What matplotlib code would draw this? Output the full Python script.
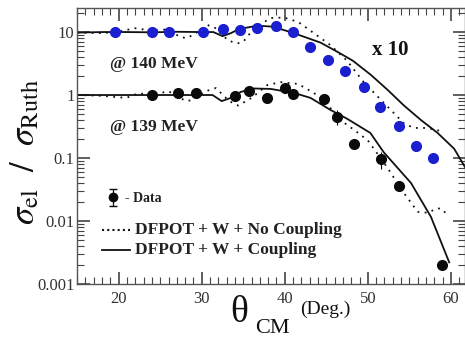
import matplotlib
matplotlib.use("Agg")
import matplotlib.pyplot as plt
from matplotlib.ticker import MultipleLocator, LogLocator, FixedLocator, NullFormatter
import numpy as np

plt.rcParams['font.family'] = ['Liberation Serif', 'DejaVu Serif']
plt.rcParams['mathtext.fontset'] = 'stix'

# 140 MeV data (x10)
x140 = [19.6, 24.0, 26.0, 30.2, 32.5, 34.6, 36.7, 38.9, 41.0, 43.0, 45.2, 47.3, 49.5, 51.5, 53.7, 55.8, 57.8]
y140 = [10.0, 10.0, 10.0, 10.0, 11.2, 10.8, 11.6, 12.4, 10.0, 5.8, 3.6, 2.4, 1.34, 0.65, 0.32, 0.155, 0.10]

# 139 MeV data
x139 = [24.0, 27.1, 29.3, 34.0, 35.7, 37.8, 40.0, 41.0, 44.7, 46.3, 48.3, 51.6, 53.7, 58.9]
y139 = [1.0, 1.07, 1.07, 0.98, 1.16, 0.90, 1.29, 1.04, 0.86, 0.45, 0.167, 0.096, 0.036, 0.002]
e139 = [0.05, 0.06, 0.06, 0.06, 0.07, 0.1, 0.12, 0.06, 0.12, 0.12, 0.02, 0.03, 0.005, 0.0003]

# Coupling (solid) 140 MeV x10
xs140 = [15, 18, 21, 24, 27, 30, 31.4, 32.5, 33.5, 34.5, 36.7, 38.5, 40.9, 44.3, 46.4, 48.2, 50.4, 52.4, 54.3, 56.4, 58.4, 60.4, 61.8]
ys140 = [9.8, 10.0, 10.0, 9.9, 10.1, 10.0, 10.0, 8.6, 9.6, 11.2, 12.6, 12.2, 9.8, 6.8, 4.8, 3.5, 2.07, 1.2, 0.69, 0.40, 0.25, 0.14, 0.068]

# No coupling (dotted) 140 MeV x10
xd140 = [15, 18, 20, 22, 24, 25.7, 27.5, 28.2, 29.3, 30.6, 31.5, 33.2, 34.3, 35.0, 36.3, 38.3, 39.9, 41.6, 43.5, 45.5, 47.5, 49.5, 51.6, 54.3, 55.5, 57.2, 59.2]
yd140 = [9.8, 9.6, 10.2, 11.5, 10.5, 11.0, 8.3, 8.0, 9.6, 13.0, 12.0, 7.3, 6.6, 7.0, 11.5, 16.7, 17.0, 14.5, 9.6, 6.2, 3.5, 1.6, 0.83, 0.36, 0.30, 0.30, 0.26]

# Coupling (solid) 139 MeV
xs139 = [15, 18, 21, 24, 27, 30, 31.3, 32.4, 33.5, 34.7, 36.3, 38.3, 41.1, 43.1, 45.5, 47.5, 50.3, 51.9, 55.2, 57.6, 59.8]
ys139 = [1.0, 1.0, 1.0, 1.0, 1.0, 1.0, 1.0, 0.80, 0.9, 1.12, 1.27, 1.25, 1.08, 0.9, 0.58, 0.42, 0.25, 0.124, 0.040, 0.0116, 0.0022]

# No coupling (dotted) 139 MeV
xd139 = [15, 18, 20.9, 22.4, 24, 26.0, 28.1, 28.8, 30.5, 31.7, 33.3, 34.4, 36.0, 37.9, 39.5, 41.6, 43.5, 45.2, 46.7, 48.5, 50.0, 52.4, 54.0, 56.0, 57.2, 58.4, 59.1, 59.6]
yd139 = [1.0, 0.97, 0.90, 1.07, 1.0, 1.15, 0.80, 0.83, 1.15, 1.29, 0.80, 0.68, 0.9, 1.44, 1.6, 1.5, 1.08, 0.69, 0.40, 0.27, 0.19, 0.069, 0.032, 0.014, 0.0135, 0.016, 0.015, 0.0116]

fig = plt.figure(figsize=(4.65, 3.38), dpi=100)
ax = fig.add_axes([0.166, 0.160, 0.834, 0.816])
ax.set_yscale('log')
ax.set_xlim(15, 61.7)
ax.set_ylim(0.001, 24)

ax.plot(xs140, ys140, color='#111111', lw=1.3)
ax.plot(xd140, yd140, color='#111111', lw=1.3, linestyle=(0, (1, 3)))
ax.plot(xs139, ys139, color='#111111', lw=1.3)
ax.plot(xd139, yd139, color='#111111', lw=1.3, linestyle=(0, (1, 3)))

ax.plot(x140, y140, 'o', color='#1a1fd0', markersize=7, zorder=5)
ax.errorbar(x139, y139, yerr=e139, fmt='o', color='#0a0a0a', markersize=7,
            elinewidth=0.8, capsize=0, zorder=5)

# ticks
for s in ax.spines.values():
    s.set_color('#555555')
    s.set_linewidth(1.0)
ax.xaxis.set_major_locator(MultipleLocator(10))
ax.xaxis.set_minor_locator(MultipleLocator(1))
ax.yaxis.set_minor_locator(LogLocator(base=10, subs=np.arange(2, 10), numticks=20))
ax.yaxis.set_minor_formatter(NullFormatter())
ax.set_yticks([0.001, 0.01, 0.1, 1, 10])
ax.set_yticklabels(['0.001', '0.01', '0.1', '1', '10'])
ax.tick_params(which='both', direction='in', top=True, right=True, colors='#444444',
               labelcolor='#333333', labelsize=12)
ax.tick_params(which='major', length=9, width=1.2)
ax.tick_params(which='minor', length=5, width=0.8)
ax.tick_params(axis='x', which='major', pad=5)
ax.tick_params(axis='y', which='major', pad=2)

# annotations
ax.text(19.0, 3.1, '@ 140 MeV', fontsize=12.5, fontweight='bold', color='#222222', va='center')
ax.text(19.0, 0.31, '@ 139 MeV', fontsize=12.5, fontweight='bold', color='#222222', va='center')
ax.text(50.5, 5.2, 'x 10', fontsize=15, fontweight='bold', color='#111111', va='center')

# legend (manual)
ax.errorbar([19.3], [0.024], yerr=[[0.007], [0.008]], fmt='o', color='#0a0a0a', markersize=6,
            elinewidth=0.9, capsize=3)
ax.text(20.8, 0.023, '- Data', fontsize=10, fontweight='bold', color='#222222', va='center')
ax.plot([18.0, 21.4], [0.0073, 0.0073], color='#111111', lw=1.5, linestyle=(0, (1, 1.5)))
ax.text(22.0, 0.0073, 'DFPOT + W + No Coupling', fontsize=12.5, fontweight='bold', color='#222222', va='center')
ax.plot([18.0, 21.4], [0.0035, 0.0035], color='#111111', lw=1.3)
ax.text(22.0, 0.0035, 'DFPOT + W + Coupling', fontsize=12.5, fontweight='bold', color='#222222', va='center')

# axis labels
fig.text(0.055, 0.55, r'$\sigma_{\mathrm{el}}\ \ /\ \ \sigma_{\mathrm{Ruth}}$', rotation=90,
         fontsize=25, ha='center', va='center', color='#111111')
fig.text(0.515, 0.075, 'θ', fontsize=27, ha='center', va='center', color='#111111')
fig.text(0.585, 0.0, 'CM', fontsize=16, ha='center', va='bottom', color='#111111')
fig.text(0.645, 0.085, '(Deg.)', fontsize=14, ha='left', va='center', color='#111111')

fig.savefig('out.png', dpi=100)
